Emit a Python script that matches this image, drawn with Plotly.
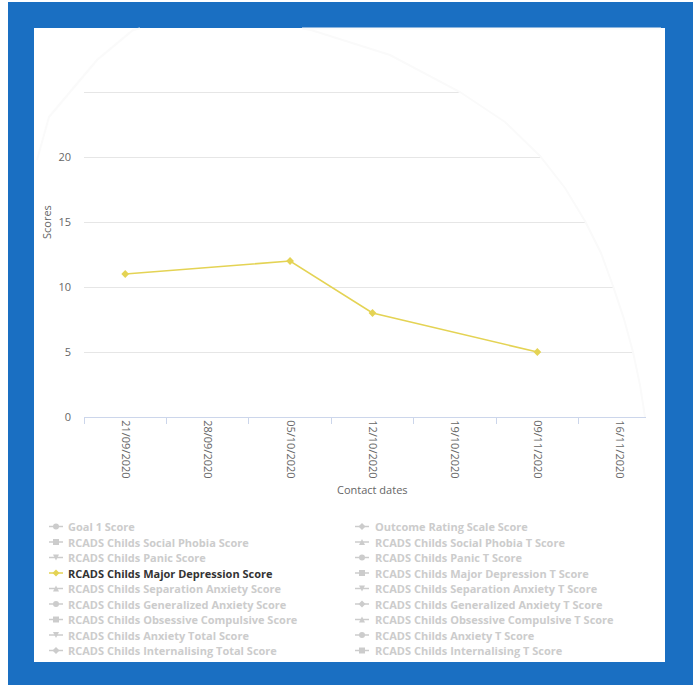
import plotly.graph_objects as go

# ---------------- data ----------------
contact_dates = ["21/09/2020", "28/09/2020", "05/10/2020", "12/10/2020",
                 "19/10/2020", "09/11/2020", "16/11/2020"]
major_depression_score = [11, None, 12, 8, None, 5, None]

y_tick_values = [0, 5, 10, 15, 20, 25]
y_tick_labels = ["0", "5", "10", "15", "20", ""]

series_names = [
    "Goal 1 Score", "Outcome Rating Scale Score",
    "RCADS Childs Social Phobia Score", "RCADS Childs Social Phobia T Score",
    "RCADS Childs Panic Score", "RCADS Childs Panic T Score",
    "RCADS Childs Major Depression Score", "RCADS Childs Major Depression T Score",
    "RCADS Childs Separation Anxiety Score", "RCADS Childs Separation Anxiety T Score",
    "RCADS Childs Generalized Anxiety Score", "RCADS Childs Generalized Anxiety T Score",
    "RCADS Childs Obsessive Compulsive Score", "RCADS Childs Obsessive Compulsive T Score",
    "RCADS Childs Anxiety Total Score", "RCADS Childs Anxiety T Score",
    "RCADS Childs Internalising Total Score", "RCADS Childs Internalising T Score",
]
visible_series = "RCADS Childs Major Depression Score"

# ---------------- layout geometry (pixels) ----------------
W, H = 697, 686
L, R, T, B = 84, 661, 27, 417
Y_MAX = 30
N = len(contact_dates)
FONT = "Open Sans"
LINE_COLOR = "#e4d354"
HIDDEN = "#cccccc"
BLUE = "#1a6fc2"
ARC = "#fafafa"


def fx(px):
    return (px - L) / (R - L)


def fy(py):
    return (B - py) / (B - T)


def dx(px):  # pixel -> category-axis data units
    return (px - L) / (R - L) * N - 0.5


def dy(py):  # pixel -> y data units
    return (B - py) / (B - T) * Y_MAX


fig = go.Figure()
fig.add_trace(go.Scatter(
    x=contact_dates, y=major_depression_score, mode="lines+markers",
    name=visible_series, connectgaps=True,
    line=dict(color=LINE_COLOR, width=1.6),
    marker=dict(color=LINE_COLOR, size=6, symbol="diamond"),
    showlegend=False, hoverinfo="skip",
))

shapes = []
# outer blue frame and white panel
shapes.append(dict(type="rect", xref="paper", yref="paper", layer="below",
                   x0=fx(8), x1=fx(693), y0=fy(685), y1=fy(2),
                   fillcolor=BLUE, line=dict(width=0)))
shapes.append(dict(type="rect", xref="paper", yref="paper", layer="below",
                   x0=fx(34), x1=fx(665), y0=fy(662), y1=fy(28),
                   fillcolor="white", line=dict(width=0)))
# left faint arc
arc_l = [(140, 28.5), (133, 30), (97, 60), (70, 92), (49, 117), (37, 160)]
p2 = "M {} {}".format(fx(arc_l[0][0]), fy(arc_l[0][1]))
for (a, b) in arc_l[1:]:
    p2 += " L {} {}".format(fx(a), fy(b))
shapes.append(dict(type="path", path=p2, xref="paper", yref="paper",
                   layer="below", line=dict(color=ARC, width=2)))

# right faded vignette arc (hides gridline ends)
arc_r = [(302, 28.5), (311, 30), (390, 55), (460, 92), (505, 122), (540, 156),
         (565, 188), (585, 221), (601, 253), (613, 286), (624, 319), (633, 352),
         (640, 385), (645, 417)]
p = "M {} {}".format(dx(arc_r[0][0]), dy(arc_r[0][1]))
for (a, b) in arc_r[1:]:
    p += " L {} {}".format(dx(a), dy(b))
p += " L {} {} L {} {} Z".format(dx(R + 2), dy(B), dx(R + 2), dy(28.5))
shapes.append(dict(type="path", path=p, xref="x", yref="y",
                   layer="between", fillcolor="white",
                   line=dict(color=ARC, width=2)))
# hide axis line end beyond the arc
shapes.append(dict(type="rect", xref="paper", yref="paper", layer="above",
                   x0=fx(646), x1=fx(664), y0=fy(424), y1=fy(414),
                   fillcolor="white", line=dict(width=0)))

# ---------------- custom legend ----------------
symbols = ["circle", "diamond", "square", "triangle", "triangle-down"]
annotations = []
for i, name in enumerate(series_names):
    row, col = divmod(i, 2)
    cy = 526.5 + 15.5 * row
    sx = 56 if col == 0 else 362
    tx = 66 if col == 0 else 373
    vis = name == visible_series
    color = LINE_COLOR if vis else HIDDEN
    shapes.append(dict(type="line", xref="paper", yref="paper", layer="above",
                       x0=fx(sx - 7), x1=fx(sx + 7), y0=fy(cy), y1=fy(cy),
                       line=dict(color=color, width=1.5)))
    sym = symbols[i % 5]
    r = 3
    if sym == "circle":
        shapes.append(dict(type="circle", xref="paper", yref="paper", layer="above",
                           x0=fx(sx - r), x1=fx(sx + r), y0=fy(cy + r), y1=fy(cy - r),
                           fillcolor=color, line=dict(width=0)))
    elif sym == "square":
        shapes.append(dict(type="rect", xref="paper", yref="paper", layer="above",
                           x0=fx(sx - r), x1=fx(sx + r), y0=fy(cy + r), y1=fy(cy - r),
                           fillcolor=color, line=dict(width=0)))
    else:
        if sym == "diamond":
            pts = [(sx, cy - r - 0.5), (sx + r + 0.5, cy), (sx, cy + r + 0.5), (sx - r - 0.5, cy)]
        elif sym == "triangle":
            pts = [(sx, cy - r), (sx + r, cy + r), (sx - r, cy + r)]
        else:
            pts = [(sx - r, cy - r), (sx + r, cy - r), (sx, cy + r)]
        pp = "M " + " L ".join("{} {}".format(fx(a), fy(b)) for a, b in pts) + " Z"
        shapes.append(dict(type="path", path=pp, xref="paper", yref="paper", layer="above",
                           fillcolor=color, line=dict(width=0)))
    annotations.append(dict(
        xref="paper", yref="paper", x=fx(tx), y=fy(cy), xanchor="left", yanchor="middle",
        text="<b>{}</b>".format(name), showarrow=False,
        font=dict(family=FONT, size=11, color="#333333" if vis else HIDDEN)))

# axis titles
annotations.append(dict(xref="paper", yref="paper", x=fx(372), y=fy(489),
                        xanchor="center", yanchor="middle",
                        text="Contact dates", showarrow=False,
                        font=dict(family=FONT, size=11, color="#666666")))
annotations.append(dict(xref="paper", yref="paper", x=fx(46), y=fy(222),
                        xanchor="center", yanchor="middle",
                        text="Scores", showarrow=False, textangle=-90,
                        font=dict(family=FONT, size=11, color="#666666")))

fig.update_layout(
    width=W, height=H,
    margin=dict(l=L, r=W - R, t=T, b=H - B, pad=0),
    paper_bgcolor="white", plot_bgcolor="rgba(0,0,0,0)",
    font=dict(family=FONT, size=11, color="#666666"),
    showlegend=False, hovermode=False,
    shapes=shapes, annotations=annotations,
    xaxis=dict(type="category", categoryorder="array", categoryarray=contact_dates,
               range=[-0.5, N - 0.5], fixedrange=True,
               showgrid=False, zeroline=False,
               showline=True, linecolor="#ccd6eb", linewidth=1,
               ticks="outside", tickson="boundaries", ticklen=6, tickcolor="#ccd6eb",
               tickangle=90, tickfont=dict(family=FONT, size=11, color="#666666")),
    yaxis=dict(range=[0, Y_MAX], tickvals=y_tick_values, ticktext=y_tick_labels,
               fixedrange=True,
               showgrid=True, gridcolor="#e6e6e6", gridwidth=1,
               zeroline=False, showline=False, ticks="", ticklabelstandoff=12,
               tickfont=dict(family=FONT, size=11, color="#666666")),
)

fig.write_html("out.html", config={"displayModeBar": False},
               post_script="document.body.style.margin='0';")
